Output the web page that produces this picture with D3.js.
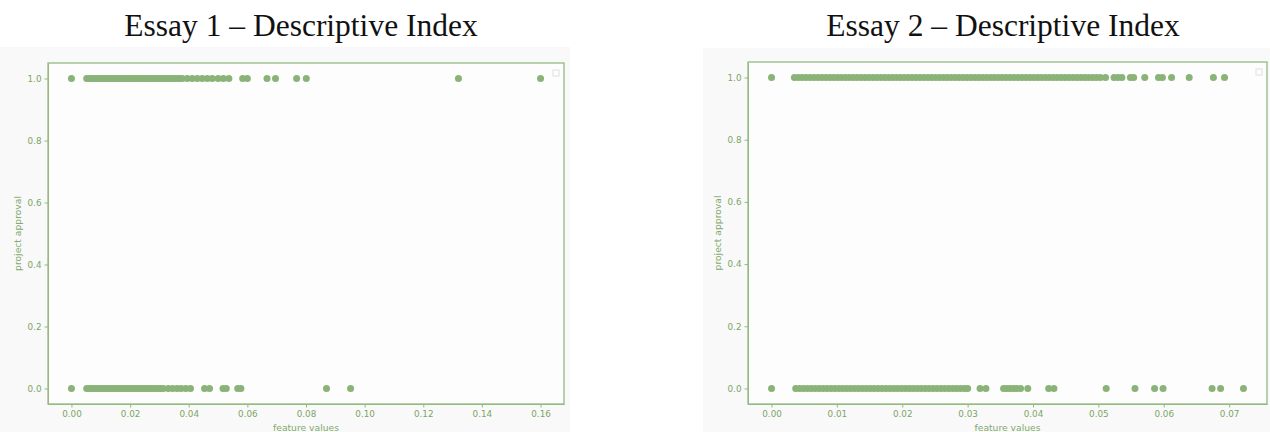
<!DOCTYPE html>
<html>
<head>
<meta charset="utf-8">
<script src="https://cdn.jsdelivr.net/npm/d3@7"></script>
<style>
  body { margin: 0; background: #ffffff; }
  .axis text { font-family: "DejaVu Sans", sans-serif; font-size: 8.8px; fill: #7ba566; }
  .axis path, .axis line { stroke: #94ba82; }
  .lbl { font-family: "DejaVu Sans", sans-serif; font-size: 9.2px; fill: #80a96c; }
  .title { font-family: "Liberation Serif", "Times New Roman", serif; font-size: 31.5px; fill: #111; }
</style>
</head>
<body>
<div id="chart"></div>
<script>
// ---- data
var titles = ["Essay 1 \u2013 Descriptive Index", "Essay 2 \u2013 Descriptive Index"];
var yTicks = [0, 0.2, 0.4, 0.6, 0.8, 1.0];
var xTicks1 = [0, 0.02, 0.04, 0.06, 0.08, 0.10, 0.12, 0.14, 0.16];
var xTicks2 = [0, 0.01, 0.02, 0.03, 0.04, 0.05, 0.06, 0.07];

// essay 1, approved (1) and not approved (0)
var essay1Yes = [0, 0.0052, 0.0062, 0.0071, 0.0080, 0.0088, 0.0097, 0.0105, 0.0114, 0.0122,
  0.0131, 0.0140, 0.0148, 0.0157, 0.0166, 0.0175, 0.0183, 0.0192, 0.0200, 0.0209, 0.0218,
  0.0227, 0.0236, 0.0245, 0.0254, 0.0262, 0.0271, 0.0280, 0.0289, 0.0298, 0.0307, 0.0316,
  0.0325, 0.0334, 0.0343, 0.0352, 0.0361, 0.0370, 0.0378, 0.0395, 0.0412, 0.0429, 0.0446,
  0.0463, 0.0480, 0.0500, 0.0518, 0.0537, 0.0584, 0.0600, 0.0667, 0.0696, 0.0768, 0.0801,
  0.1320, 0.1600];
var essay1No = [0, 0.0052, 0.0061, 0.0070, 0.0079, 0.0088, 0.0097, 0.0106, 0.0115, 0.0124,
  0.0133, 0.0142, 0.0151, 0.0160, 0.0169, 0.0178, 0.0187, 0.0196, 0.0205, 0.0214, 0.0223,
  0.0232, 0.0241, 0.0250, 0.0259, 0.0268, 0.0277, 0.0286, 0.0295, 0.0304, 0.0313, 0.0330,
  0.0345, 0.0360, 0.0374, 0.0390, 0.0406, 0.0454, 0.0471, 0.0517, 0.0528, 0.0567, 0.0578,
  0.0870, 0.0952];

// essay 2
var essay2Yes = [0, 0.0035, 0.0041, 0.0047, 0.0053, 0.0059, 0.0065, 0.0071, 0.0077, 0.0083,
  0.0089, 0.0095, 0.0101, 0.0107, 0.0113, 0.0119, 0.0125, 0.0131, 0.0137, 0.0143, 0.0149,
  0.0155, 0.0161, 0.0167, 0.0173, 0.0179, 0.0185, 0.0191, 0.0197, 0.0203, 0.0209, 0.0215,
  0.0221, 0.0227, 0.0233, 0.0239, 0.0245, 0.0251, 0.0257, 0.0263, 0.0269, 0.0275, 0.0281,
  0.0287, 0.0293, 0.0299, 0.0305, 0.0311, 0.0317, 0.0323, 0.0329, 0.0335, 0.0341, 0.0347,
  0.0353, 0.0359, 0.0365, 0.0371, 0.0377, 0.0383, 0.0389, 0.0395, 0.0401, 0.0407, 0.0413,
  0.0419, 0.0425, 0.0431, 0.0437, 0.0443, 0.0449, 0.0455, 0.0461, 0.0467, 0.0473, 0.0479,
  0.0485, 0.0491, 0.0497, 0.0503, 0.0511, 0.0524, 0.0530, 0.0536, 0.0549, 0.0554, 0.0571,
  0.0592, 0.0598, 0.0612, 0.0639, 0.0676, 0.0693];
var essay2No = [0, 0.0037, 0.0043, 0.0049, 0.0055, 0.0061, 0.0067, 0.0073, 0.0079, 0.0085,
  0.0091, 0.0097, 0.0103, 0.0109, 0.0115, 0.0121, 0.0127, 0.0133, 0.0139, 0.0145, 0.0151,
  0.0157, 0.0163, 0.0169, 0.0175, 0.0181, 0.0187, 0.0193, 0.0199, 0.0205, 0.0211, 0.0217,
  0.0223, 0.0229, 0.0235, 0.0241, 0.0247, 0.0253, 0.0259, 0.0265, 0.0271, 0.0277, 0.0283,
  0.0289, 0.0295, 0.0300, 0.0319, 0.0328, 0.0355, 0.0360, 0.0365, 0.0370, 0.0375, 0.0381,
  0.0392, 0.0424, 0.0432, 0.0512, 0.0556, 0.0586, 0.0599, 0.0674, 0.0687, 0.0722];

var W = 1270, H = 432;
var dotColor = "#8ab378";

var svg = d3.select("#chart").append("svg")
    .attr("width", W)
    .attr("height", H);

var panels = [
  { title: titles[0], titleX: 301, bg: [0, 47, 570, 385], left: 48, top: 63, right: 564, bottom: 404,
    xDomain: [-0.008, 0.168], xTicks: xTicks1, yes: essay1Yes, no: essay1No },
  { title: titles[1], titleX: 1003, bg: [703, 48, 567, 384], left: 748, top: 62, right: 1267, bottom: 404,
    xDomain: [-0.0036, 0.0758], xTicks: xTicks2, yes: essay2Yes, no: essay2No }
];

panels.forEach(function(p) {
  // figure background
  svg.append("rect")
      .attr("x", p.bg[0]).attr("y", p.bg[1])
      .attr("width", p.bg[2]).attr("height", p.bg[3])
      .attr("fill", "#f9f9f9");

  svg.append("text")
      .attr("class", "title")
      .attr("x", p.titleX)
      .attr("y", 36)
      .attr("text-anchor", "middle")
      .text(p.title);

  var w = p.right - p.left, h = p.bottom - p.top;
  var g = svg.append("g").attr("transform", "translate(" + p.left + "," + p.top + ")");

  g.append("rect")
      .attr("width", w).attr("height", h)
      .attr("fill", "#fdfdfd");

  var xScale = d3.scaleLinear().domain(p.xDomain).range([0, w]);
  var yScale = d3.scaleLinear().domain([-0.05, 1.05]).range([h, 0]);

  var xAxis = d3.axisBottom(xScale).tickValues(p.xTicks).tickFormat(d3.format(".2f"))
      .tickSize(3.5).tickPadding(3).tickSizeOuter(0);
  var yAxis = d3.axisLeft(yScale).tickValues(yTicks).tickFormat(d3.format(".1f"))
      .tickSize(3.5).tickPadding(3).tickSizeOuter(0);

  g.append("g").attr("class", "x axis")
      .attr("transform", "translate(0," + h + ")")
      .call(xAxis);
  g.append("g").attr("class", "y axis").call(yAxis);

  // frame
  g.append("rect")
      .attr("width", w).attr("height", h)
      .attr("fill", "none")
      .attr("stroke", "#94ba82")
      .attr("stroke-width", 1.3);

  var pts = p.yes.map(function(v) { return { x: v, y: 1 }; })
      .concat(p.no.map(function(v) { return { x: v, y: 0 }; }));

  g.selectAll(".dot")
      .data(pts)
      .enter().append("circle")
      .attr("class", "dot")
      .attr("r", 3.5)
      .attr("cx", function(d) { return xScale(d.x); })
      .attr("cy", function(d) { return yScale(d.y); })
      .attr("fill", dotColor);

  // empty legend box
  g.append("rect")
      .attr("x", w - 11).attr("y", 7)
      .attr("width", 6).attr("height", 6)
      .attr("fill", "none")
      .attr("stroke", "#e0e0e0");

  g.append("text")
      .attr("class", "lbl")
      .attr("x", w / 2)
      .attr("y", h + 27)
      .attr("text-anchor", "middle")
      .text("feature values");

  g.append("text")
      .attr("class", "lbl")
      .attr("x", -h / 2)
      .attr("y", -27)
      .attr("text-anchor", "middle")
      .attr("transform", "rotate(-90)")
      .text("project approval");
});
</script>
</body>
</html>
